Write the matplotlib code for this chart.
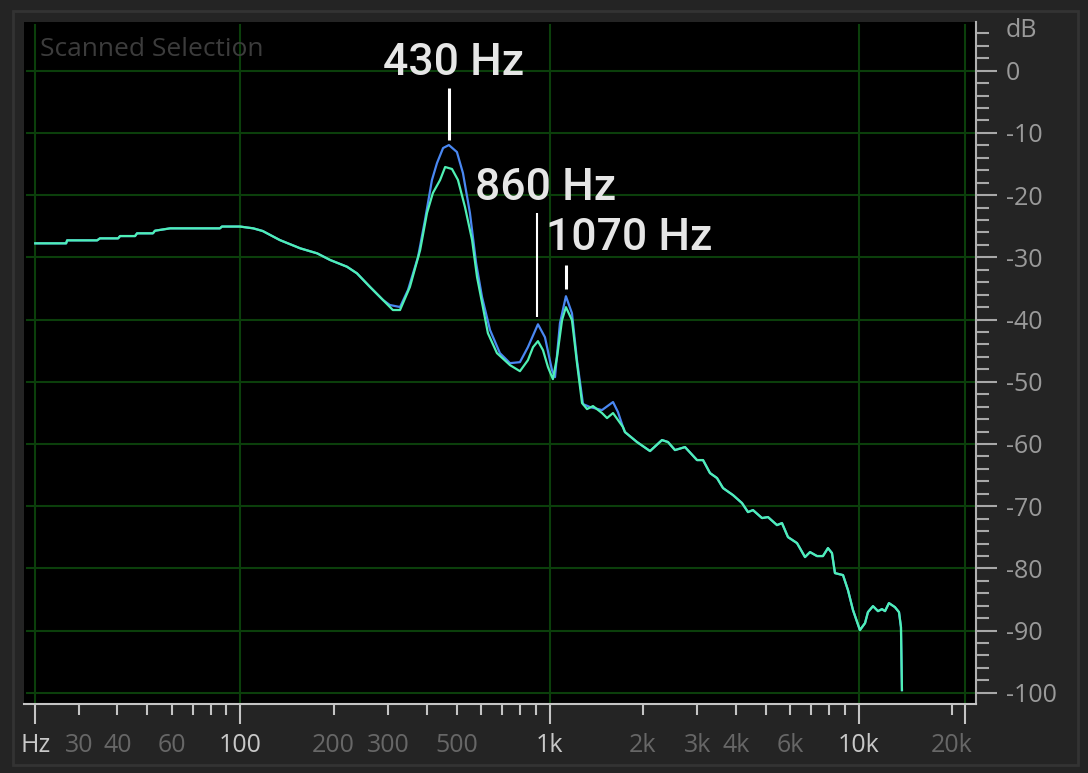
import matplotlib
matplotlib.use('Agg')
import matplotlib.pyplot as plt
from matplotlib.patches import Rectangle
from matplotlib.transforms import blended_transform_factory

freq_vert = [21.7, 27.3, 27.5, 34.4, 35.1, 40.2, 40.8, 45.6, 46.3, 52.1, 52.9, 59.2,
             85.8, 87.1, 99.6, 110, 118, 134, 156, 177, 195, 221, 238, 262, 289,
             311, 328, 353, 381, 401, 419, 442, 459, 483, 505, 532, 561, 582, 608,
             631, 675, 744, 801, 850, 883, 916, 951, 987, 1024, 1056, 1096, 1128,
             1180, 1225, 1272, 1320, 1380, 1476, 1532, 1602, 1725, 1751, 1915, 2110,
             2307, 2412, 2541, 2738, 2994, 3131, 3298, 3475, 3634, 3914, 4185, 4376,
             4542, 4857, 5079, 5430, 5636, 5894, 6303, 6691, 6944, 7315, 7648, 7938,
             8178, 8363, 8879, 9213, 9563, 10070, 10460, 10690, 11100, 11520, 11870,
             12140, 12500, 13070, 13470, 13670, 13770]
db_vert = [-27.75, -27.75, -27.27, -27.27, -26.95, -26.95, -26.58, -26.58, -26.14, -26.14,
           -25.72, -25.34, -25.34, -25.05, -25.05, -25.34, -25.77, -27.22, -28.55, -29.36,
           -30.43, -31.51, -32.57, -34.73, -36.86, -38.47, -38.47, -34.77, -28.83, -22.86,
           -19.65, -17.57, -15.48, -15.80, -17.57, -21.91, -27.22, -33.17, -38.01, -42.19,
           -45.40, -47.33, -48.30, -46.53, -44.44, -43.47, -44.92, -47.65, -49.58, -46.03,
           -40.08, -38.01, -40.08, -47.01, -53.42, -54.39, -53.91, -55.03, -55.84, -55.03,
           -57.28, -58.09, -59.69, -61.14, -59.37, -59.69, -60.98, -60.50, -62.59, -62.59,
           -64.68, -65.48, -67.09, -68.22, -69.50, -70.95, -70.63, -71.91, -71.75, -73.04,
           -72.72, -74.97, -75.93, -78.18, -77.38, -78.02, -78.02, -76.74, -77.54, -80.76,
           -81.08, -83.49, -86.70, -89.92, -88.80, -87.03, -86.07, -86.87, -86.55, -86.87,
           -85.58, -86.23, -87.03, -89.44, -99.57]

freq_bleu = [21.7, 27.3, 27.5, 34.4, 35.1, 40.2, 40.8, 45.6, 46.3, 52.1, 52.9, 59.2,
             85.8, 87.1, 99.6, 110, 118, 134, 156, 177, 195, 221, 238, 262, 289,
             304, 328, 348, 375, 395, 416, 432, 452, 472, 501, 524, 552, 578, 604,
             641, 690, 744, 801, 850, 916, 965, 1017, 1040, 1079, 1128, 1180, 1225,
             1281, 1350, 1476, 1602, 1662, 1725, 1751, 1915, 2110,
             2307, 2412, 2541, 2738, 2994, 3131, 3298, 3475, 3634, 3914, 4185, 4376,
             4542, 4857, 5079, 5430, 5636, 5894, 6303, 6691, 6944, 7315, 7648, 7938,
             8178, 8363, 8879, 9213, 9563, 10070, 10460, 10690, 11100, 11520, 11870,
             12140, 12500, 13070, 13470, 13670, 13770]
db_bleu = [-27.75, -27.75, -27.27, -27.27, -26.95, -26.95, -26.58, -26.58, -26.14, -26.14,
           -25.72, -25.34, -25.34, -25.05, -25.05, -25.34, -25.77, -27.22, -28.55, -29.36,
           -30.43, -31.51, -32.57, -34.73, -36.86,
           -37.66, -37.99, -35.26, -29.95, -24.00, -17.57, -14.84, -12.43, -11.95, -13.07,
           -16.45, -22.86, -30.91, -36.38, -41.67, -45.40, -47.01, -46.85, -44.44, -40.76,
           -42.85, -48.14, -49.26, -40.59, -36.25, -38.99, -46.53, -53.59, -54.07, -54.55,
           -53.26, -54.87, -57.28, -58.09, -59.69, -61.14, -59.37, -59.69, -60.98, -60.50,
           -62.59, -62.59, -64.68, -65.48, -67.09, -68.22, -69.50, -70.95, -70.63, -71.91,
           -71.75, -73.04, -72.72, -74.97, -75.93, -78.18, -77.38, -78.02, -78.02, -76.74,
           -77.54, -80.76, -81.08, -83.49, -86.70, -89.92, -88.80, -87.03, -86.07, -86.87,
           -86.55, -86.87, -85.58, -86.23, -87.03, -89.44, -99.57]

# Pics annotes
pics_texte = ['430 Hz', '860 Hz', '1070 Hz']
pics_freq = [472, 910, 1128]
pics_haut = [-2.8, -22.9, -31.2]
pics_bas = [-11.2, -39.6, -35.1]

# Graduations
x_debut, x_fin = 21.7, 22050
x_major = [x_debut, 100, 1000, 10000, x_fin]
x_minor = [30, 40, 50, 60, 70, 80, 90, 200, 300, 400, 500, 600, 700, 800, 900,
           2000, 3000, 4000, 5000, 6000, 7000, 8000, 9000, 20000]
x_labels = {x_debut: 'Hz', 30: '30', 40: '40', 60: '60', 100: '100', 200: '200',
            300: '300', 500: '500', 1000: '1k', 2000: '2k', 3000: '3k', 4000: '4k',
            6000: '6k', 10000: '10k', 20000: '20k'}
x_labels_clairs = [x_debut, 100, 1000, 10000]
y_major = list(range(0, -101, -10))
y_minor = [v for v in range(6, -100, -2) if v % 10 != 0]

FOND = '#242424'
GRILLE = '#0b3f0b'
TEXTE_GRIS = '#9a9a9a'

fig = plt.figure(figsize=(10.88, 7.73), dpi=100, facecolor=FOND)
fig.patches.append(Rectangle((13 / 1088, 1 - 765 / 773), 1065 / 1088, 754 / 773,
                             transform=fig.transFigure, fill=False,
                             edgecolor='#333333', lw=2))

ax = fig.add_axes([24 / 1088, 1 - 704 / 773, 952 / 1088, 682 / 773])
ax.set_facecolor('black')
ax.set_xscale('log')
ax.set_xlim(19.95, 23900)
ax.set_ylim(-101.8, 7.83)

# Grille
for v in y_major:
    ax.axhline(v, xmin=0.003, color=GRILLE, lw=1.5, zorder=1)
for f in x_major:
    ax.axvline(f, ymax=0.995, color=GRILLE, lw=1.5, zorder=1)

# Courbes
ax.plot(freq_bleu, db_bleu, color='#4a88f2', lw=1.6, zorder=3)
ax.plot(freq_vert, db_vert, color='#4ff0b4', lw=1.6, zorder=4)

# Bordures
for s in ['top', 'left']:
    ax.spines[s].set_visible(False)
ax.spines['bottom'].set_color('#c4c4c4')
ax.spines['bottom'].set_linewidth(1.5)
ax.spines['right'].set_color('#b0b0b0')
ax.spines['right'].set_linewidth(1.5)

# Axe des x
ax.set_xticks(x_major)
ax.set_xticks(x_minor, minor=True)
ax.tick_params(axis='x', which='both', labelbottom=False, direction='out',
               color='#c4c4c4', width=1.5)
ax.tick_params(axis='x', which='major', length=14.4)
ax.tick_params(axis='x', which='minor', length=7.9)
trans = blended_transform_factory(ax.transData, ax.transAxes)
for f, lab in x_labels.items():
    couleur = '#c8c8c8' if f in x_labels_clairs else '#676767'
    ax.text(f, -0.061, lab, transform=trans, ha='center', va='center',
            fontsize=18, family='Open Sans', color=couleur)

# Axe des y (a droite)
ax.yaxis.tick_right()
ax.set_yticks(y_major)
ax.set_yticklabels([str(v) for v in y_major], fontsize=18, family='Open Sans',
                   color=TEXTE_GRIS)
ax.set_yticks(y_minor, minor=True)
ax.tick_params(axis='y', which='both', direction='out', color='#a8a8a8', width=1.5)
ax.tick_params(axis='y', which='major', length=15.1, pad=6.5)
ax.tick_params(axis='y', which='minor', length=9.4)
trans_y = blended_transform_factory(ax.transAxes, ax.transData)
ax.text(1.0315, 6.4, 'dB', transform=trans_y, ha='left', va='center',
        fontsize=18, family='Open Sans', color=TEXTE_GRIS)

# Titre
ax.text(0.017, 0.96, 'Scanned Selection', transform=ax.transAxes, ha='left',
        va='center', fontsize=19, family='Open Sans', color='#3c3c3c')

# Annotations des pics
pos_textes = [(490, -0.7, 'center'), (573, -20.8, 'left'), (975, -28.9, 'left')]
larg = [2.2, 1.5, 2.2]
for i in range(len(pics_texte)):
    ax.vlines(pics_freq[i], pics_bas[i], pics_haut[i], color='white', lw=larg[i], zorder=5)
    x, y, ha = pos_textes[i]
    ax.text(x, y, pics_texte[i], ha=ha, va='baseline', fontsize=32,
            family='Roboto', weight='medium', color='#e6e6e6', zorder=6)

plt.savefig('out.png', dpi=100, facecolor=FOND)
